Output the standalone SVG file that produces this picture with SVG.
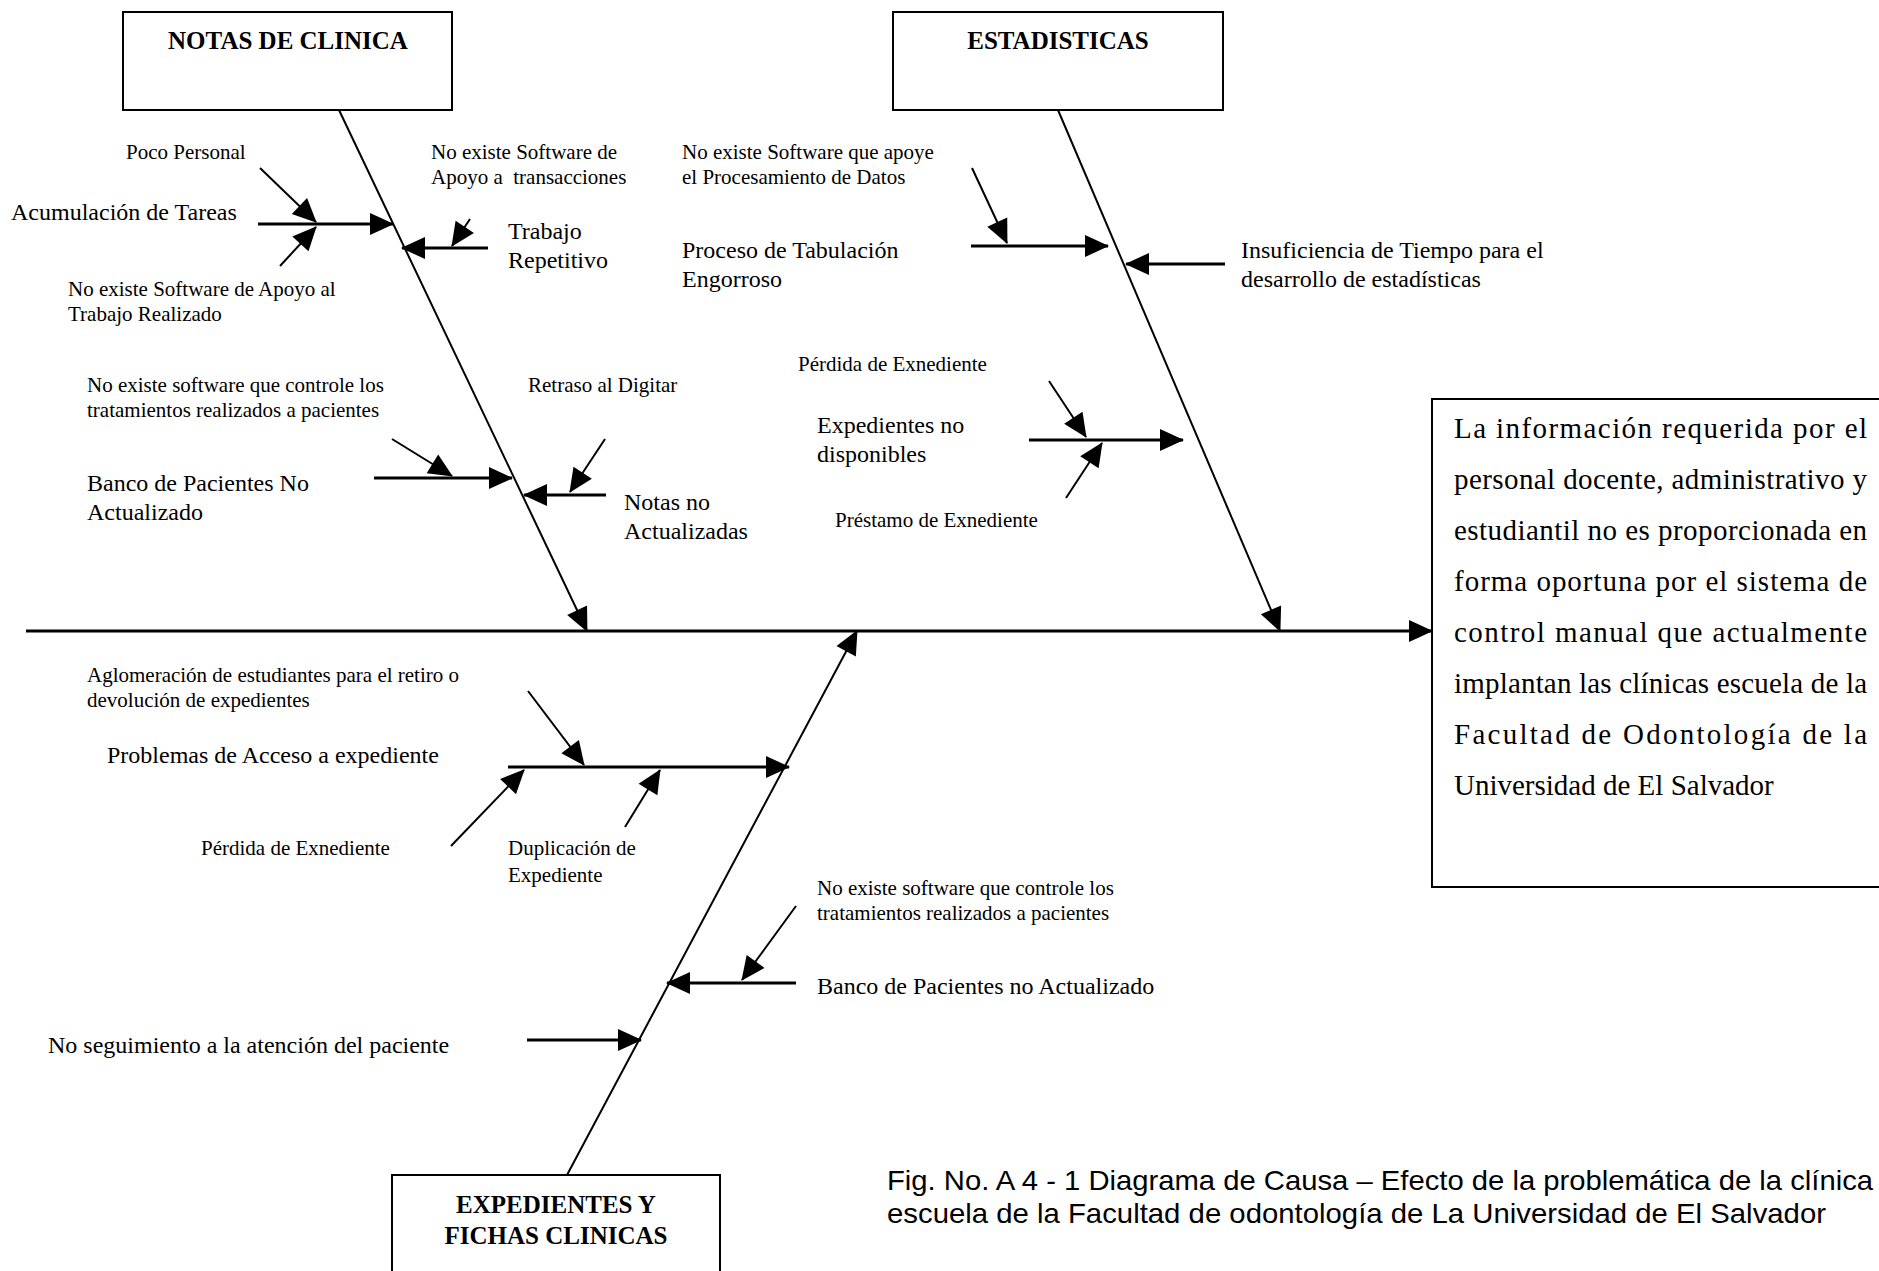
<svg xmlns="http://www.w3.org/2000/svg" width="1879" height="1271" viewBox="0 0 1879 1271">
<style>
  .box { fill: #fff; stroke: #000; stroke-width: 2; }
  .title { font-family: "Liberation Serif", "Times New Roman", serif; font-weight: bold; font-size: 25px; fill: #000; text-anchor: middle; }
  .sm { font-family: "Liberation Serif", "Times New Roman", serif; font-size: 21px; fill: #000; white-space: pre; }
  .md { font-family: "Liberation Serif", "Times New Roman", serif; font-size: 24px; fill: #000; }
  .eff { font-family: "Liberation Serif", "Times New Roman", serif; font-size: 29px; fill: #000; }
  .cap { font-family: "Liberation Sans", Arial, sans-serif; font-size: 28px; fill: #000; }
  .bone { fill: none; stroke: #000; stroke-width: 2; marker-end: url(#ah); }
  .sub { fill: none; stroke: #000; stroke-width: 3; marker-end: url(#ah); }
  .diag { fill: none; stroke: #000; stroke-width: 2; marker-end: url(#ah); }
  .spine { fill: none; stroke: #000; stroke-width: 3; marker-end: url(#ah); }
</style>
<defs>
  <marker id="ah" markerUnits="userSpaceOnUse" viewBox="0 0 24 22" markerWidth="24" markerHeight="22" refX="23" refY="11" orient="auto" overflow="visible">
    <path d="M0,0 L24,11 L0,22 z" fill="#000"/>
  </marker>
</defs>
<rect width="1879" height="1271" fill="#fff"/>

<g id="connectors">
  <path class="spine" d="M26,631 L1432,631"/>
  <path class="bone" d="M339,110 L587,631"/>
  <path class="bone" d="M1058,110 L1280,631"/>
  <path class="bone" d="M567,1175 L857,631"/>
  <!-- NOTAS DE CLINICA -->
  <path class="sub" d="M258,224 L393,224"/>
  <path class="diag" d="M260,168 L316,222"/>
  <path class="diag" d="M280,266 L316,227"/>
  <path class="sub" d="M488,248 L402,248"/>
  <path class="diag" d="M470,219 L452,246"/>
  <path class="sub" d="M374,478 L512,478"/>
  <path class="diag" d="M392,439 L452,476"/>
  <path class="sub" d="M606,495 L524,495"/>
  <path class="diag" d="M605,439 L570,492"/>
  <!-- ESTADISTICAS -->
  <path class="sub" d="M971,246 L1108,246"/>
  <path class="diag" d="M972,168 L1007,243"/>
  <path class="sub" d="M1225,264 L1126,264"/>
  <path class="sub" d="M1029,440 L1183,440"/>
  <path class="diag" d="M1049,381 L1086,437"/>
  <path class="diag" d="M1066,498 L1102,443"/>
  <!-- EXPEDIENTES -->
  <path class="sub" d="M508,767 L789,767"/>
  <path class="diag" d="M528,691 L584,765"/>
  <path class="diag" d="M451,846 L524,770"/>
  <path class="diag" d="M625,827 L660,770"/>
  <path class="sub" d="M796,983 L667,983"/>
  <path class="diag" d="M796,906 L742,980"/>
  <path class="sub" d="M527,1040 L641,1040"/>
</g>

<g id="notas-de-clinica">
  <rect class="box" x="123" y="12" width="329" height="98"/>
  <text class="title" x="288" y="49">NOTAS DE CLINICA</text>
</g>
<g id="estadisticas">
  <rect class="box" x="893" y="12" width="330" height="98"/>
  <text class="title" x="1058" y="49">ESTADISTICAS</text>
</g>
<g id="expedientes">
  <rect class="box" x="392" y="1175" width="328" height="110"/>
  <text class="title" x="556" y="1213">EXPEDIENTES Y</text>
  <text class="title" x="556" y="1244">FICHAS CLINICAS</text>
</g>
<g id="efecto">
  <rect class="box" x="1432" y="399" width="470" height="488"/>
  <text class="eff" x="1454" y="438" textLength="413" lengthAdjust="spacing">La información requerida por el</text>
  <text class="eff" x="1454" y="489" textLength="413" lengthAdjust="spacing">personal docente, administrativo y</text>
  <text class="eff" x="1454" y="540" textLength="413" lengthAdjust="spacing">estudiantil no es proporcionada en</text>
  <text class="eff" x="1454" y="591" textLength="413" lengthAdjust="spacing">forma oportuna por el sistema de</text>
  <text class="eff" x="1454" y="642" textLength="413" lengthAdjust="spacing">control manual que actualmente</text>
  <text class="eff" x="1454" y="693" textLength="413" lengthAdjust="spacing">implantan las clínicas escuela de la</text>
  <text class="eff" x="1454" y="744" textLength="413" lengthAdjust="spacing">Facultad de Odontología de la</text>
  <text class="eff" x="1454" y="795">Universidad de El Salvador</text>
</g>

<g id="poco-personal"><text class="sm" x="126" y="159">Poco Personal</text></g>
<g id="acumulacion"><text class="md" x="11" y="220">Acumulación de Tareas</text></g>
<g id="no-software-apoyo-trabajo">
  <text class="sm" x="68" y="296">No existe Software de Apoyo al</text>
  <text class="sm" x="68" y="321">Trabajo Realizado</text>
</g>
<g id="no-software-transacciones">
  <text class="sm" x="431" y="159">No existe Software de</text>
  <text class="sm" x="431" y="184">Apoyo a  transacciones</text>
</g>
<g id="trabajo-repetitivo">
  <text class="md" x="508" y="239">Trabajo</text>
  <text class="md" x="508" y="268">Repetitivo</text>
</g>
<g id="no-software-tratamientos-1">
  <text class="sm" x="87" y="392">No existe software que controle los</text>
  <text class="sm" x="87" y="417">tratamientos realizados a pacientes</text>
</g>
<g id="banco-pacientes-1">
  <text class="md" x="87" y="491">Banco de Pacientes No</text>
  <text class="md" x="87" y="520">Actualizado</text>
</g>
<g id="retraso-digitar"><text class="sm" x="528" y="392">Retraso al Digitar</text></g>
<g id="notas-no-actualizadas">
  <text class="md" x="624" y="510">Notas no</text>
  <text class="md" x="624" y="539">Actualizadas</text>
</g>

<g id="no-software-procesamiento">
  <text class="sm" x="682" y="159">No existe Software que apoye</text>
  <text class="sm" x="682" y="184">el Procesamiento de Datos</text>
</g>
<g id="proceso-tabulacion">
  <text class="md" x="682" y="258">Proceso de Tabulación</text>
  <text class="md" x="682" y="287">Engorroso</text>
</g>
<g id="insuficiencia-tiempo">
  <text class="md" x="1241" y="258">Insuficiencia de Tiempo para el</text>
  <text class="md" x="1241" y="287">desarrollo de estadísticas</text>
</g>
<g id="perdida-expediente-1"><text class="sm" x="798" y="371">Pérdida de Exnediente</text></g>
<g id="expedientes-no-disponibles">
  <text class="md" x="817" y="433">Expedientes no</text>
  <text class="md" x="817" y="462">disponibles</text>
</g>
<g id="prestamo-expediente"><text class="sm" x="835" y="527">Préstamo de Exnediente</text></g>

<g id="aglomeracion">
  <text class="sm" x="87" y="682">Aglomeración de estudiantes para el retiro o</text>
  <text class="sm" x="87" y="707">devolución de expedientes</text>
</g>
<g id="problemas-acceso"><text class="md" x="107" y="763">Problemas de Acceso a expediente</text></g>
<g id="perdida-expediente-2"><text class="sm" x="201" y="855">Pérdida de Exnediente</text></g>
<g id="duplicacion">
  <text class="sm" x="508" y="855">Duplicación de</text>
  <text class="sm" x="508" y="882">Expediente</text>
</g>
<g id="no-software-tratamientos-2">
  <text class="sm" x="817" y="895">No existe software que controle los</text>
  <text class="sm" x="817" y="920">tratamientos realizados a pacientes</text>
</g>
<g id="banco-pacientes-2"><text class="md" x="817" y="994">Banco de Pacientes no Actualizado</text></g>
<g id="no-seguimiento"><text class="md" x="48" y="1053">No seguimiento a la atención del paciente</text></g>

<g id="caption">
  <text class="cap" x="887" y="1190" textLength="986" lengthAdjust="spacingAndGlyphs">Fig. No. A 4 - 1 Diagrama de Causa – Efecto de la problemática de la clínica</text>
  <text class="cap" x="887" y="1223" textLength="939" lengthAdjust="spacingAndGlyphs">escuela de la Facultad de odontología de La Universidad de El Salvador</text>
</g>
</svg>
